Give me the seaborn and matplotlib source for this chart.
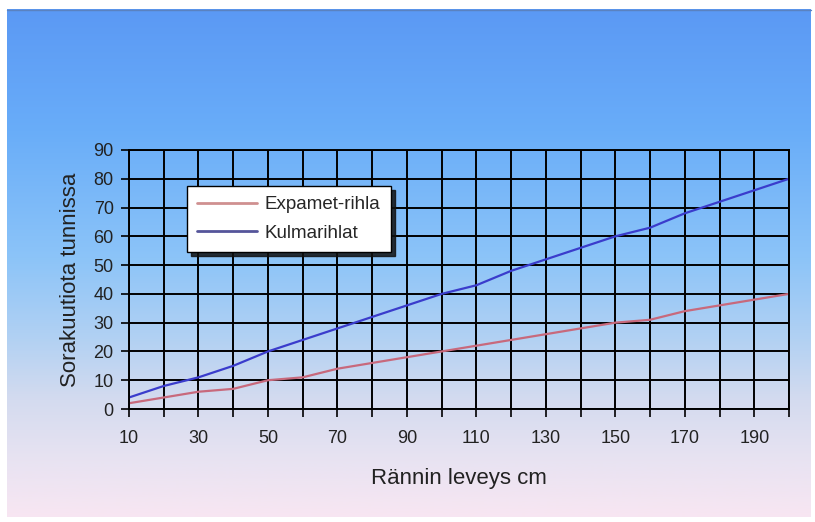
import numpy as np
import pandas as pd
import matplotlib
matplotlib.use("Agg")
import matplotlib.pyplot as plt
from matplotlib.colors import LinearSegmentedColormap
import seaborn as sns

# ---- data ----
widths = [10, 20, 30, 40, 50, 60, 70, 80, 90, 100,
          110, 120, 130, 140, 150, 160, 170, 180, 190, 200]
expamet = [2, 4, 6, 7, 10, 11, 14, 16, 18, 20,
           22, 24, 26, 28, 30, 31, 34, 36, 38, 40]
kulma = [4, 8, 11, 15, 20, 24, 28, 32, 36, 40,
         43, 48, 52, 56, 60, 63, 68, 72, 76, 80]
series_names = ["Expamet-rihla", "Kulmarihlat"]
xtick_labels = [10, 30, 50, 70, 90, 110, 130, 150, 170, 190]
yticks = [0, 10, 20, 30, 40, 50, 60, 70, 80, 90]

df = pd.DataFrame({
    "x": widths * 2,
    "y": expamet + kulma,
    "series": [series_names[0]] * len(widths) + [series_names[1]] * len(widths),
})

sns.set_theme(style="white")
plt.rcParams["font.family"] = ["Liberation Sans", "DejaVu Sans"]

W, H = 815, 522
fig = plt.figure(figsize=(W / 100, H / 100), dpi=100)
fig.patch.set_facecolor("white")

# ---- gradient background ----
bg = fig.add_axes([0, 0, 1, 1], zorder=0)
bg.set_xlim(0, W)
bg.set_ylim(H, 0)
bg.axis("off")
stops = [(0.0, "#5b99f4"), (0.24, "#69adf9"), (0.49, "#8cc4f8"),
         (0.65, "#b2d1f3"), (0.77, "#d4dbef"), (0.89, "#e8e3f2"),
         (1.0, "#f8e6f2")]
cmap = LinearSegmentedColormap.from_list("bg", stops)
grad = np.linspace(0, 1, 256).reshape(-1, 1)
bg.imshow(grad, cmap=cmap, aspect="auto", extent=[7, 811, 517, 9], interpolation="bicubic")
bg.plot([7, 811], [9.5, 9.5], color="#5a82c0", lw=1)

# ---- main axes ----
l, r, t, b = 129, 789, 150, 409
ax = fig.add_axes([l / W, 1 - b / H, (r - l) / W, (b - t) / H], zorder=1)
ax.patch.set_alpha(0)

palette = {series_names[0]: "#c8697c", series_names[1]: "#3a3ccc"}
sns.lineplot(data=df, x="x", y="y", hue="series", palette=palette,
             linewidth=1.6, ax=ax, legend=True)

ax.set_xlim(10, 200)
ax.set_ylim(0, 90)
ax.set_xticks(widths)
ax.set_xticklabels([str(v) if v in xtick_labels else "" for v in widths])
ax.set_yticks(yticks)
ax.grid(True, color="black", linewidth=1.4)
ax.set_axisbelow(True)
for s in ax.spines.values():
    s.set_color("black")
    s.set_linewidth(1.4)
ax.tick_params(axis="both", direction="out", length=6, width=1.2, color="black",
               labelsize=13, labelcolor="#222222")
ax.tick_params(axis="x", bottom=True, pad=9)
ax.tick_params(axis="y", left=True, pad=5)

ax.set_xlabel("Rännin leveys cm", fontsize=16, color="#222222", labelpad=15)
ax.set_ylabel("Sorakuutiota tunnissa", fontsize=16, color="#222222", labelpad=9)

leg = ax.legend(loc="upper left", bbox_to_anchor=(0.088, 0.861), borderaxespad=0,
                frameon=True, fancybox=False,
                shadow={"color": "#111111", "alpha": 0.85, "ox": 3, "oy": -3},
                framealpha=1, edgecolor="black", facecolor="white", fontsize=13.5,
                handlelength=3.2, handletextpad=0.4, borderpad=0.55,
                labelspacing=0.6)
leg.get_frame().set_linewidth(1.0)
for line in leg.get_lines():
    line.set_linewidth(2)
leg.get_lines()[0].set_color("#cf9090")
leg.get_lines()[1].set_color("#55559a")

fig.savefig("out.png", dpi=100)
